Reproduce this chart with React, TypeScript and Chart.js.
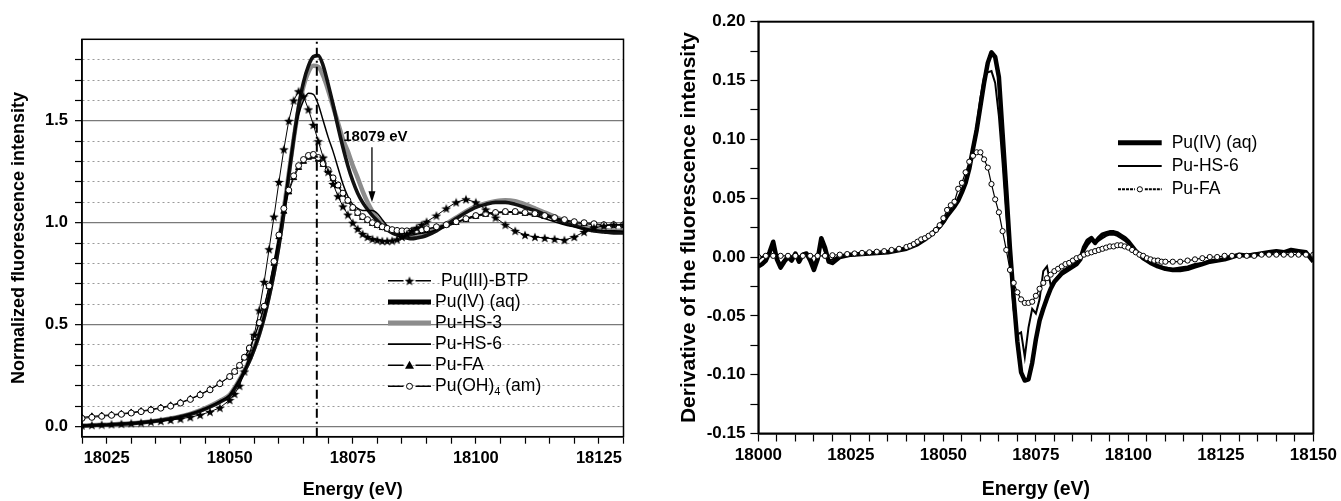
import React, { useEffect, useRef } from 'react';
import { Chart, registerables } from 'chart.js';

Chart.register(...registerables);

const FONT = "'Liberation Sans', Arial, Helvetica, sans-serif";

// ================= Left panel: normalized XANES =================
const LEFT_ENERGY = [
  18020, 18022, 18024, 18026, 18028, 18030, 18032, 18034, 18036, 18038, 18040, 18042, 18044, 18046, 18048,
  18050, 18051, 18052, 18053, 18054, 18055, 18056, 18057, 18058, 18059,
  18060, 18061, 18062, 18063, 18064, 18065, 18066, 18067, 18068, 18069,
  18070, 18071, 18072, 18073, 18074, 18075, 18076, 18077, 18078, 18079,
  18080, 18081, 18082, 18083, 18084, 18085, 18086, 18087, 18088, 18089, 18090,
  18092, 18094, 18096, 18098, 18100, 18102, 18104, 18106, 18108, 18110,
  18112, 18114, 18116, 18118, 18120, 18122, 18124, 18126, 18128, 18130,
];

const PU3_BTP = [
  0.005, 0.007, 0.009, 0.011, 0.013, 0.016, 0.019, 0.023, 0.027, 0.032, 0.038, 0.046, 0.057, 0.072, 0.092,
  0.13, 0.16, 0.2, 0.27, 0.35, 0.45, 0.57, 0.71, 0.87, 1.03,
  1.2, 1.36, 1.5, 1.6, 1.645, 1.62, 1.556, 1.48, 1.4, 1.32,
  1.25, 1.19, 1.13, 1.08, 1.04, 1.0, 0.97, 0.945, 0.93, 0.92,
  0.915, 0.91, 0.91, 0.912, 0.918, 0.93, 0.945, 0.96, 0.975, 0.99, 1.005,
  1.035, 1.07, 1.1, 1.115, 1.1, 1.065, 1.025, 0.99, 0.96, 0.94,
  0.93, 0.925, 0.92, 0.915, 0.93, 0.955, 0.975, 0.985, 0.99, 0.99,
];

const PU4_AQ = [
  0.003, 0.005, 0.007, 0.009, 0.012, 0.015, 0.019, 0.024, 0.03, 0.038, 0.048, 0.06, 0.076, 0.096, 0.12,
  0.15, 0.185, 0.225, 0.27, 0.32, 0.38, 0.45, 0.535, 0.635, 0.75,
  0.885, 1.045, 1.23, 1.41, 1.57, 1.69, 1.77, 1.815, 1.82, 1.77,
  1.68, 1.58, 1.47, 1.37, 1.28, 1.205, 1.145, 1.1, 1.065, 1.035,
  1.01, 0.985, 0.965, 0.95, 0.94, 0.93, 0.925, 0.922, 0.925, 0.93, 0.937,
  0.96, 0.99, 1.02, 1.05, 1.075, 1.09, 1.1, 1.1, 1.09, 1.075,
  1.06, 1.04, 1.02, 1.0, 0.985, 0.97, 0.96, 0.955, 0.95, 0.95,
];

const PU_HS3 = [
  0.004, 0.006, 0.008, 0.01, 0.013, 0.016, 0.02, 0.025, 0.031, 0.039, 0.049, 0.062, 0.079, 0.1, 0.125,
  0.155, 0.19, 0.23, 0.275, 0.325, 0.385, 0.455, 0.54, 0.645, 0.765,
  0.905, 1.065, 1.24, 1.41, 1.56, 1.67, 1.74, 1.77, 1.765, 1.72,
  1.65, 1.57, 1.49, 1.41, 1.35, 1.28, 1.22, 1.155, 1.1, 1.055,
  1.02, 0.995, 0.975, 0.96, 0.95, 0.945, 0.94, 0.94, 0.94, 0.945, 0.95,
  0.97, 0.995, 1.025, 1.055, 1.08, 1.095, 1.105, 1.11, 1.105, 1.09,
  1.07, 1.05, 1.03, 1.01, 0.995, 0.98, 0.97, 0.965, 0.96, 0.96,
];

const PU_HS6 = [
  0.003, 0.005, 0.007, 0.009, 0.012, 0.015, 0.019, 0.024, 0.03, 0.038, 0.048, 0.061, 0.077, 0.098, 0.123,
  0.155, 0.19, 0.23, 0.275, 0.325, 0.385, 0.455, 0.54, 0.645, 0.77,
  0.915, 1.08, 1.25, 1.41, 1.53, 1.6, 1.635, 1.63, 1.58, 1.5,
  1.42, 1.35, 1.27, 1.19, 1.13, 1.09, 1.07, 1.06, 1.06, 1.06,
  1.045, 1.015, 0.985, 0.96, 0.945, 0.94, 0.94, 0.94, 0.945, 0.948, 0.952,
  0.965, 0.98, 1.0, 1.02, 1.035, 1.045, 1.05, 1.052, 1.05, 1.045,
  1.035, 1.02, 1.005, 0.99, 0.98, 0.97, 0.965, 0.96, 0.96, 0.958,
];

const PU_FA = [
  0.045, 0.05, 0.054, 0.058, 0.063, 0.069, 0.076, 0.084, 0.093, 0.104, 0.118, 0.136, 0.158, 0.183, 0.213,
  0.245, 0.268, 0.297, 0.336, 0.38, 0.435, 0.505, 0.585, 0.685, 0.8,
  0.93, 1.055, 1.15, 1.22, 1.27, 1.3, 1.32, 1.325, 1.31, 1.285,
  1.255, 1.215, 1.18, 1.14, 1.105, 1.07, 1.045, 1.025, 1.01, 0.995,
  0.985, 0.975, 0.968, 0.962, 0.958, 0.956, 0.956, 0.957, 0.96, 0.963, 0.968,
  0.978, 0.988, 1.0, 1.015, 1.03, 1.04, 1.047, 1.05, 1.05, 1.045,
  1.04, 1.03, 1.02, 1.01, 1.0, 0.995, 0.99, 0.988, 0.988, 0.988,
];

const PU_OH4 = [
  0.04, 0.045, 0.05, 0.055, 0.06, 0.066, 0.073, 0.081, 0.09, 0.1, 0.115, 0.133, 0.155, 0.18, 0.21,
  0.245, 0.27, 0.3, 0.34, 0.385, 0.44, 0.51, 0.59, 0.69, 0.81,
  0.94, 1.07, 1.16, 1.23, 1.28, 1.31, 1.33, 1.335, 1.32, 1.29,
  1.26, 1.22, 1.185, 1.145, 1.11, 1.075, 1.05, 1.03, 1.015, 1.0,
  0.99, 0.98, 0.972, 0.966, 0.962, 0.96, 0.96, 0.96, 0.962, 0.965, 0.97,
  0.98, 0.99, 1.005, 1.02, 1.035, 1.045, 1.05, 1.055, 1.055, 1.05,
  1.045, 1.035, 1.025, 1.015, 1.005, 1.0, 0.995, 0.99, 0.99, 0.99,
];

const LEFT_LEGEND = ['Pu(III)-BTP', 'Pu(IV) (aq)', 'Pu-HS-3', 'Pu-HS-6', 'Pu-FA', 'Pu(OH)4 (am)'];
const EDGE_LINE_ENERGY = 18067.7;
const ANNOT_ENERGY = 18078.9;
const ANNOT_LABEL = '18079 eV';
const ANNOT_TEXT_ENERGY = 18079.6;
const ANNOT_TEXT_VALUE = 1.42;
const ANNOT_ARROW_FROM = 1.37;
const ANNOT_ARROW_TO = 1.1;

const LEFT_X = { min: 18020, max: 18130, step: 5, labelEvery: 25 };
const LEFT_Y = { min: -0.05, max: 1.9, labelEvery: 0.5 };
const LEFT_Y_TICKS = [0, 0.1, 0.2, 0.3, 0.4, 0.5, 0.6, 0.7, 0.8, 0.9, 1.0, 1.1, 1.2, 1.3, 1.4, 1.5, 1.6, 1.7, 1.8, 1.9];

// ================= Right panel: first derivative =================
const DERIV_ENERGY = [
  18000, 18001, 18002, 18003, 18004, 18005, 18006, 18007, 18008, 18009,
  18010, 18011, 18012, 18013, 18014, 18015, 18016, 18017, 18018, 18019, 18020,
  18022, 18025, 18030, 18035, 18040, 18043, 18045, 18047, 18049,
  18050, 18051, 18052, 18053, 18054, 18055, 18056, 18057, 18058, 18059,
  18060, 18061, 18062, 18063, 18064, 18065, 18066, 18067, 18068, 18069,
  18070, 18071, 18072, 18073, 18074, 18075, 18076, 18077, 18078, 18079, 18080,
  18082, 18084, 18086,
  18087, 18088, 18089, 18090, 18091, 18092, 18093, 18094, 18095, 18096,
  18097, 18098, 18099, 18100, 18101, 18102, 18103, 18104,
  18106, 18108, 18110, 18112, 18114, 18116, 18118, 18120, 18122, 18124, 18126, 18128,
  18130, 18132, 18134, 18136, 18138, 18140, 18142, 18144, 18146, 18148, 18150,
];

const D_PU4_AQ = [
  -0.008, -0.006, -0.003, 0.004, 0.013, -0.002, -0.009, -0.004, 0.0, -0.003,
  0.003, -0.004, 0.002, 0.003, -0.003, -0.011, -0.002, 0.016, 0.008, -0.004, -0.005,
  0.0, 0.002, 0.003, 0.004, 0.007, 0.011, 0.015, 0.02, 0.026,
  0.03, 0.035, 0.039, 0.043, 0.048, 0.055, 0.063, 0.075, 0.092, 0.108,
  0.128, 0.148, 0.165, 0.174, 0.17, 0.153, 0.105, 0.057, 0.007, -0.035,
  -0.072, -0.098, -0.105, -0.104, -0.09, -0.07, -0.054, -0.044, -0.035, -0.027, -0.021,
  -0.014, -0.01, -0.006,
  -0.002, 0.008, 0.014, 0.016, 0.012, 0.016, 0.019, 0.02, 0.021, 0.021,
  0.02, 0.018, 0.016, 0.013, 0.009, 0.005, 0.002, -0.001,
  -0.005, -0.008, -0.01, -0.011, -0.011, -0.01, -0.008, -0.006, -0.004, -0.003, -0.002, 0.0,
  0.002, 0.001, 0.002, 0.003, 0.004, 0.005, 0.004, 0.006, 0.005, 0.004, -0.004,
];

const D_PU_HS6 = [
  -0.002, 0.0, 0.001, 0.002, 0.008, 0.0, -0.006, -0.002, 0.002, 0.0,
  0.001, -0.002, 0.002, 0.002, 0.0, -0.006, 0.0, 0.012, 0.004, -0.003, -0.002,
  0.001, 0.002, 0.003, 0.004, 0.008, 0.012, 0.015, 0.019, 0.025,
  0.029, 0.034, 0.04, 0.045, 0.05, 0.057, 0.066, 0.078, 0.094, 0.112,
  0.135, 0.153, 0.157, 0.158, 0.148, 0.12, 0.08, 0.035, -0.005, -0.045,
  -0.066, -0.064, -0.085, -0.06, -0.044, -0.048, -0.036, -0.012, -0.008, -0.024, -0.02,
  -0.012, -0.008, -0.004,
  -0.001, 0.005, 0.01, 0.014, 0.012, 0.014, 0.016, 0.018, 0.019, 0.019,
  0.018, 0.016, 0.014, 0.011, 0.008, 0.004, 0.001, -0.002,
  -0.005, -0.007, -0.009, -0.01, -0.009, -0.008, -0.006, -0.005, -0.003, -0.002, -0.001, 0.0,
  0.002, 0.002, 0.003, 0.003, 0.004, 0.004, 0.005, 0.005, 0.004, 0.003, 0.001,
];

const FA_ENERGY = [
  18000, 18002, 18004, 18006, 18008, 18010, 18012, 18014, 18016, 18018, 18020,
  18022, 18024, 18026, 18028, 18030, 18032, 18034, 18036, 18038, 18040,
  18041, 18042, 18043, 18044, 18045, 18046, 18047, 18048, 18049, 18050,
  18051, 18052, 18053, 18054, 18055, 18056, 18057, 18058, 18059, 18060,
  18061, 18062, 18063, 18064, 18065, 18066, 18067, 18068, 18069, 18070,
  18071, 18072, 18073, 18074, 18075, 18076, 18077, 18078, 18079, 18080,
  18081, 18082, 18083, 18084, 18085, 18086, 18087, 18088, 18089, 18090,
  18091, 18092, 18093, 18094, 18095, 18096, 18097, 18098, 18099, 18100,
  18101, 18102, 18103, 18104, 18105, 18106, 18107, 18108, 18109, 18110,
  18112, 18114, 18116, 18118, 18120, 18122, 18124, 18126, 18128, 18130,
  18132, 18134, 18136, 18138, 18140, 18142, 18144, 18146, 18148, 18150,
];

const D_PU_FA = [
  0.0, 0.001, 0.001, 0.001, 0.001, 0.001, 0.001, 0.001, 0.001, 0.001, 0.0015,
  0.002, 0.0025, 0.003, 0.0035, 0.004, 0.0045, 0.005, 0.006, 0.007, 0.0085,
  0.0095, 0.011, 0.013, 0.015, 0.016, 0.018, 0.02, 0.023, 0.027, 0.033,
  0.04, 0.044, 0.047, 0.058, 0.063, 0.072, 0.081, 0.086, 0.089, 0.089,
  0.083, 0.076, 0.062, 0.049, 0.038, 0.022, 0.006, -0.011, -0.022, -0.03,
  -0.036, -0.039, -0.039, -0.038, -0.033, -0.027, -0.022, -0.018, -0.015, -0.012,
  -0.01, -0.008, -0.006, -0.005, -0.003, -0.001, 0.0, 0.002, 0.003, 0.004,
  0.005, 0.006, 0.007, 0.008, 0.009, 0.009, 0.01, 0.01, 0.009, 0.008,
  0.006, 0.004, 0.002, 0.001, -0.001, -0.002, -0.003, -0.003, -0.004, -0.004,
  -0.004, -0.004, -0.003, -0.002, -0.001, 0.0, 0.0, 0.001, 0.001, 0.001,
  0.001, 0.001, 0.002, 0.002, 0.002, 0.002, 0.002, 0.002, 0.002, 0.002,
];

const RIGHT_LEGEND = ['Pu(IV) (aq)', 'Pu-HS-6', 'Pu-FA'];
const RIGHT_X = { min: 18000, max: 18150, step: 5, labelEvery: 25 };
const RIGHT_Y = { min: -0.15, max: 0.2, step: 0.025, labelEvery: 0.05 };

// ================= helpers =================
const isMultiple = (v: number, step: number) => Math.abs(v / step - Math.round(v / step)) < 1e-6;
const near = (a: number, b: number) => Math.abs(a - b) < 1e-6;
const toPoints = (xs: number[], ys: number[]) => xs.map((x, i) => ({ x, y: ys[i] }));

function makeStar(size: number): HTMLCanvasElement {
  const c = document.createElement('canvas');
  c.width = size;
  c.height = size;
  const g = c.getContext('2d') as CanvasRenderingContext2D;
  const cx = size / 2;
  const cy = size / 2 + 0.5;
  const R = size / 2;
  const r = R * 0.42;
  g.beginPath();
  for (let i = 0; i < 10; i++) {
    const ang = -Math.PI / 2 + (i * Math.PI) / 5;
    const rad = i % 2 === 0 ? R : r;
    g.lineTo(cx + rad * Math.cos(ang), cy + rad * Math.sin(ang));
  }
  g.closePath();
  g.fillStyle = '#000';
  g.fill();
  return c;
}

function drawLegendLabel(ctx: CanvasRenderingContext2D, label: string, x: number, y: number) {
  const m = label.match(/^(.*\))(\d)(.*)$/);
  if (m && label.indexOf('(OH)') >= 0) {
    ctx.fillText(m[1], x, y);
    const w1 = ctx.measureText(m[1]).width;
    const saved = ctx.font;
    ctx.font = `11px ${FONT}`;
    ctx.fillText(m[2], x + w1, y + 6);
    const w2 = ctx.measureText(m[2]).width;
    ctx.font = saved;
    ctx.fillText(m[3], x + w1 + w2, y);
  } else {
    ctx.fillText(label, x, y);
  }
}

function drawBox(ctx: CanvasRenderingContext2D, a: any, w: number) {
  ctx.save();
  ctx.strokeStyle = '#000';
  ctx.lineWidth = w;
  ctx.strokeRect(a.left, a.top, a.right - a.left, a.bottom - a.top);
  ctx.restore();
}

let STAR_IMG: HTMLCanvasElement = null as any;

const leftDecor = {
  id: 'leftDecor',
  afterDraw(chart: any) {
    const { ctx, chartArea: a, scales } = chart;
    const xs = scales.x;
    const ys = scales.y;
    drawBox(ctx, a, 1.5);
    ctx.save();
    // annotation
    ctx.fillStyle = '#000';
    ctx.strokeStyle = '#000';
    ctx.font = `bold 15px ${FONT}`;
    ctx.textAlign = 'center';
    ctx.textBaseline = 'middle';
    ctx.fillText(ANNOT_LABEL, xs.getPixelForValue(ANNOT_TEXT_ENERGY), ys.getPixelForValue(ANNOT_TEXT_VALUE));
    const ax = xs.getPixelForValue(ANNOT_ENERGY);
    const ay1 = ys.getPixelForValue(ANNOT_ARROW_FROM);
    const ay2 = ys.getPixelForValue(ANNOT_ARROW_TO);
    ctx.lineWidth = 1.3;
    ctx.beginPath();
    ctx.moveTo(ax, ay1);
    ctx.lineTo(ax, ay2 - 6);
    ctx.stroke();
    ctx.beginPath();
    ctx.moveTo(ax, ay2);
    ctx.lineTo(ax - 3.5, ay2 - 11);
    ctx.lineTo(ax + 3.5, ay2 - 11);
    ctx.closePath();
    ctx.fill();

    // legend
    const x0 = a.left + 306;
    const x1 = x0 + 43;
    const xm = (x0 + x1) / 2;
    const y0 = a.top + 241.5;
    const dy = 21.1;
    ctx.font = `17.5px ${FONT}`;
    ctx.textAlign = 'left';
    ctx.textBaseline = 'middle';
    LEFT_LEGEND.forEach((label, i) => {
      const y = y0 + i * dy;
      ctx.save();
      ctx.lineCap = 'butt';
      if (i === 0 || i === 4 || i === 5) {
        ctx.strokeStyle = '#000';
        ctx.lineWidth = 1.6;
        ctx.beginPath();
        ctx.moveTo(x0, y);
        ctx.lineTo(xm - 6, y);
        ctx.moveTo(xm + 6, y);
        ctx.lineTo(x1, y);
        ctx.stroke();
        if (i === 0) {
          const st = STAR_IMG;
          ctx.drawImage(st, xm - st.width / 2, y - st.height / 2);
        } else if (i === 4) {
          ctx.fillStyle = '#000';
          ctx.beginPath();
          ctx.moveTo(xm, y - 4.5);
          ctx.lineTo(xm - 4.5, y + 3.5);
          ctx.lineTo(xm + 4.5, y + 3.5);
          ctx.closePath();
          ctx.fill();
        } else {
          ctx.fillStyle = '#fff';
          ctx.lineWidth = 1;
          ctx.beginPath();
          ctx.arc(xm, y, 3, 0, Math.PI * 2);
          ctx.fill();
          ctx.stroke();
        }
      } else {
        ctx.strokeStyle = i === 2 ? '#8c8c8c' : '#000';
        ctx.lineWidth = i === 3 ? 1.6 : 5;
        ctx.beginPath();
        ctx.moveTo(x0, y);
        ctx.lineTo(x1, y);
        ctx.stroke();
      }
      ctx.restore();
      ctx.fillStyle = '#000';
      drawLegendLabel(ctx, label, i === 0 ? x1 + 10 : x1 + 4, y);
    });
    ctx.restore();
  },
};

const rightDecor = {
  id: 'rightDecor',
  afterDraw(chart: any) {
    const { ctx, chartArea: a } = chart;
    drawBox(ctx, a, 2);
    ctx.save();
    const x0 = a.left + 359.6;
    const x1 = x0 + 43.7;
    const xm = (x0 + x1) / 2;
    const y0 = a.top + 121;
    const dy = 23.3;
    ctx.font = `17.5px ${FONT}`;
    ctx.textAlign = 'left';
    ctx.textBaseline = 'middle';
    RIGHT_LEGEND.forEach((label, i) => {
      const y = y0 + i * dy;
      ctx.save();
      ctx.strokeStyle = '#000';
      if (i === 2) {
        ctx.lineWidth = 2;
        ctx.setLineDash([3, 1]);
        ctx.beginPath();
        ctx.moveTo(x0, y);
        ctx.lineTo(xm - 5, y);
        ctx.moveTo(xm + 5, y);
        ctx.lineTo(x1, y);
        ctx.stroke();
        ctx.setLineDash([]);
        ctx.lineWidth = 1;
        ctx.fillStyle = '#fff';
        ctx.beginPath();
        ctx.arc(xm, y, 2.6, 0, Math.PI * 2);
        ctx.fill();
        ctx.stroke();
      } else {
        ctx.lineWidth = i === 0 ? 5 : 2;
        ctx.beginPath();
        ctx.moveTo(x0, y);
        ctx.lineTo(x1, y);
        ctx.stroke();
      }
      ctx.restore();
      ctx.fillStyle = '#000';
      ctx.fillText(label, x1 + 10, y);
    });
    ctx.restore();
  },
};

function tickFont(size: number) {
  return { family: FONT, size, weight: 'bold' as const };
}

export default function App() {
  const leftRef = useRef<HTMLCanvasElement>(null);
  const rightRef = useRef<HTMLCanvasElement>(null);

  useEffect(() => {
    STAR_IMG = makeStar(10);

    const left = new Chart(leftRef.current as HTMLCanvasElement, {
      type: 'line',
      data: {
        datasets: [
          {
            label: 'edge',
            data: [
              { x: EDGE_LINE_ENERGY, y: LEFT_Y.min },
              { x: EDGE_LINE_ENERGY, y: LEFT_Y.max },
            ],
            borderColor: '#000',
            borderWidth: 2,
            borderDash: [9, 4, 2, 4],
            pointRadius: 0,
            fill: false,
          },
          {
            label: LEFT_LEGEND[0],
            data: toPoints(LEFT_ENERGY, PU3_BTP),
            borderColor: '#000',
            borderWidth: 1,
            pointStyle: STAR_IMG,
            pointRadius: 4,
            fill: false,
          },
          {
            label: LEFT_LEGEND[5],
            data: toPoints(LEFT_ENERGY, PU_OH4),
            borderColor: '#000',
            borderWidth: 1,
            pointStyle: 'circle',
            pointRadius: 3,
            pointBackgroundColor: '#fff',
            pointBorderColor: '#000',
            pointBorderWidth: 1,
            fill: false,
          },
          {
            label: LEFT_LEGEND[4],
            data: toPoints(LEFT_ENERGY, PU_FA),
            borderColor: '#000',
            borderWidth: 1,
            pointStyle: 'triangle',
            pointRadius: 3.5,
            pointBackgroundColor: '#000',
            pointBorderColor: '#000',
            fill: false,
          },
          {
            label: LEFT_LEGEND[3],
            data: toPoints(LEFT_ENERGY, PU_HS6),
            borderColor: '#000',
            borderWidth: 1.5,
            pointRadius: 0,
            cubicInterpolationMode: 'monotone',
            fill: false,
          },
          {
            label: LEFT_LEGEND[1],
            data: toPoints(LEFT_ENERGY, PU4_AQ),
            borderColor: '#111',
            borderWidth: 3.6,
            pointRadius: 0,
            cubicInterpolationMode: 'monotone',
            fill: false,
          },
          {
            label: LEFT_LEGEND[2],
            data: toPoints(LEFT_ENERGY, PU_HS3),
            borderColor: '#8c8c8c',
            borderWidth: 4.5,
            pointRadius: 0,
            cubicInterpolationMode: 'monotone',
            fill: false,
          },
        ],
      },
      options: {
        responsive: false,
        animation: false,
        events: [],
        layout: { padding: { top: 39.3, right: 48.5, left: 0, bottom: 0 } },
        plugins: { legend: { display: false }, tooltip: { enabled: false } },
        scales: {
          x: {
            type: 'linear',
            min: LEFT_X.min,
            max: LEFT_X.max,
            ticks: {
              stepSize: LEFT_X.step,
              autoSkip: false,
              maxRotation: 0,
              padding: 5,
              color: '#000',
              font: tickFont(16.5),
              callback: (v: any) => (isMultiple(v, LEFT_X.labelEvery) ? String(v) : ''),
            },
            grid: { drawOnChartArea: false, drawTicks: true, tickLength: 7, tickColor: '#000', tickWidth: 1.2 },
            border: { display: true, color: '#000', width: 1.5 },
            title: {
              display: true,
              text: 'Energy (eV)',
              color: '#000',
              font: { family: FONT, size: 18, weight: 'bold' },
              padding: { top: 0, bottom: 0 },
            },
            afterFit: (s: any) => {
              s.height = 64.3;
            },
          },
          y: {
            type: 'linear',
            min: LEFT_Y.min,
            max: LEFT_Y.max,
            afterBuildTicks: (s: any) => {
              s.ticks = LEFT_Y_TICKS.map((value) => ({ value }));
            },
            ticks: {
              autoSkip: false,
              padding: 7,
              color: '#000',
              font: tickFont(16.5),
              callback: (v: any) => (isMultiple(v, LEFT_Y.labelEvery) ? Number(v).toFixed(1) : ''),
            },
            grid: {
              drawOnChartArea: true,
              drawTicks: true,
              tickLength: 7,
              tickWidth: 1.2,
              tickBorderDash: [],
              color: (c: any) => {
                const v = c.tick ? c.tick.value : NaN;
                if (isNaN(v) || near(v, LEFT_Y.max)) return 'rgba(0,0,0,0)';
                return isMultiple(v, LEFT_Y.labelEvery) ? '#7a7a7a' : '#9a9a9a';
              },
              lineWidth: (c: any) => {
                const v = c.tick ? c.tick.value : NaN;
                return !isNaN(v) && isMultiple(v, LEFT_Y.labelEvery) ? 1.3 : 1;
              },
              tickColor: (c: any) => {
                const v = c.tick ? c.tick.value : NaN;
                if (isNaN(v) || near(v, LEFT_Y.max)) return 'rgba(0,0,0,0)';
                return '#000';
              },
            },
            border: {
              display: true,
              color: '#000',
              width: 1.5,
              dash: (c: any) => (c.tick && !isMultiple(c.tick.value, LEFT_Y.labelEvery) ? [2, 3] : []),
            },
            title: {
              display: true,
              text: 'Normalized fluorescence intensity',
              color: '#000',
              font: { family: FONT, size: 18, weight: 'bold' },
              padding: { top: 8, bottom: 0 },
            },
            afterFit: (s: any) => {
              s.width = 82;
            },
          },
        },
      } as any,
      plugins: [leftDecor],
    } as any);

    const right = new Chart(rightRef.current as HTMLCanvasElement, {
      type: 'line',
      data: {
        datasets: [
          {
            label: RIGHT_LEGEND[2],
            data: toPoints(FA_ENERGY, D_PU_FA),
            borderColor: '#000',
            borderWidth: 1.2,
            pointStyle: 'circle',
            pointRadius: 2.6,
            pointBackgroundColor: '#fff',
            pointBorderColor: '#000',
            pointBorderWidth: 1,
            fill: false,
          },
          {
            label: RIGHT_LEGEND[1],
            data: toPoints(DERIV_ENERGY, D_PU_HS6),
            borderColor: '#000',
            borderWidth: 2,
            pointRadius: 0,
            fill: false,
          },
          {
            label: RIGHT_LEGEND[0],
            data: toPoints(DERIV_ENERGY, D_PU4_AQ),
            borderColor: '#000',
            borderWidth: 4.5,
            pointRadius: 0,
            borderJoinStyle: 'round',
            fill: false,
          },
        ],
      },
      options: {
        responsive: false,
        animation: false,
        events: [],
        layout: { padding: { top: 21.7, right: 24.4, left: 0, bottom: 0 } },
        plugins: { legend: { display: false }, tooltip: { enabled: false } },
        scales: {
          x: {
            type: 'linear',
            min: RIGHT_X.min,
            max: RIGHT_X.max,
            ticks: {
              stepSize: RIGHT_X.step,
              autoSkip: false,
              maxRotation: 0,
              padding: 4,
              color: '#000',
              font: tickFont(17),
              callback: (v: any) => (isMultiple(v, RIGHT_X.labelEvery) ? String(v) : ''),
            },
            grid: { drawOnChartArea: false, drawTicks: true, tickLength: 8, tickColor: '#000', tickWidth: 1.2 },
            border: { display: true, color: '#000', width: 1.5 },
            title: {
              display: true,
              text: 'Energy (eV)',
              color: '#000',
              font: { family: FONT, size: 19.5, weight: 'bold' },
              padding: { top: 0, bottom: 0 },
            },
            afterFit: (s: any) => {
              s.height = 67.5;
            },
          },
          y: {
            type: 'linear',
            min: RIGHT_Y.min,
            max: RIGHT_Y.max,
            ticks: {
              stepSize: RIGHT_Y.step,
              autoSkip: false,
              padding: 5,
              color: '#000',
              font: tickFont(17),
              callback: (v: any) => {
                const n = Math.abs(Number(v)) < 1e-9 ? 0 : Number(v);
                return isMultiple(n, RIGHT_Y.labelEvery) ? n.toFixed(2) : '';
              },
            },
            grid: { drawOnChartArea: false, drawTicks: true, tickLength: 8, tickColor: '#000', tickWidth: 1.2 },
            border: { display: true, color: '#000', width: 1.5 },
            title: {
              display: true,
              text: 'Derivative of the fluorescence intensity',
              color: '#000',
              font: { family: FONT, size: 21, weight: 'bold' },
              padding: { top: 5, bottom: 0 },
            },
            afterFit: (s: any) => {
              s.width = 86.4;
            },
          },
        },
      } as any,
      plugins: [rightDecor],
    } as any);

    return () => {
      left.destroy();
      right.destroy();
    };
  }, []);

  return (
    <div style={{ position: 'fixed', left: 0, top: 0, width: 1341, height: 501, background: '#fff', overflow: 'hidden' }}>
      <canvas
        ref={leftRef}
        width={672}
        height={501}
        style={{ position: 'absolute', left: 0, top: 0, width: 672, height: 501 }}
      />
      <canvas
        ref={rightRef}
        width={669}
        height={501}
        style={{ position: 'absolute', left: 672, top: 0, width: 669, height: 501 }}
      />
    </div>
  );
}
